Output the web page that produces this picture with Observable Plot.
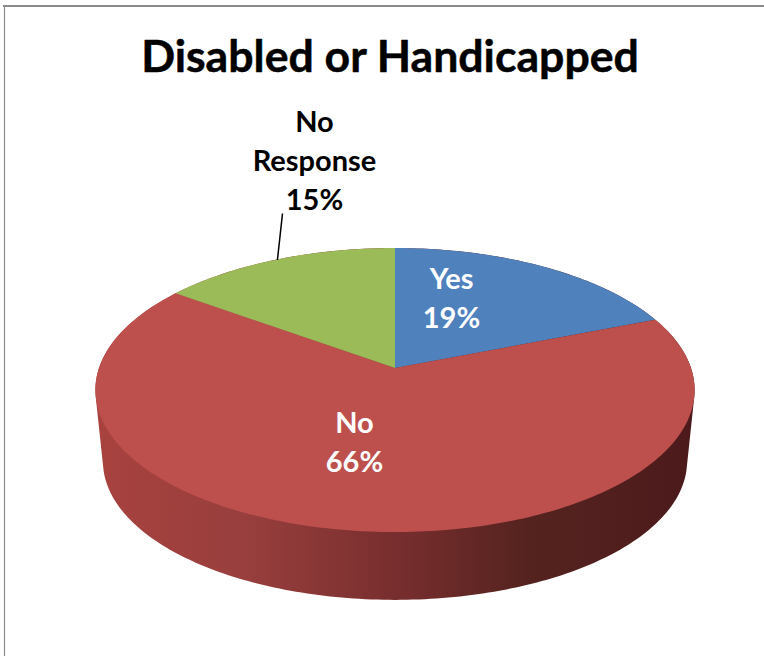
<!DOCTYPE html>
<html>
<head>
<meta charset="utf-8">
<title>Disabled or Handicapped</title>
<script src="https://cdn.jsdelivr.net/npm/d3@7"></script>
<script src="https://cdn.jsdelivr.net/npm/@observablehq/plot@0.6"></script>
<style>
  html, body { margin: 0; padding: 0; background: #fff; }
  svg { display: block; }
</style>
</head>
<body>
<script>
// Survey responses, in clockwise order from twelve o'clock
const categories = ["Yes", "No", "No Response"];
const percents = [19, 66, 15];
const labelNames = ["Yes", "No", "No\nResponse"];
const sliceColors = ["#4f81bd", "#bd504d", "#9bbb59"];
const labelColors = ["white", "white", "black"];

// Perspective disc: apex on screen, half-axes, and foreshortening towards the back
const disc = {cx: 395, cy: 368, a: 296, b: 138.6, k: 0.155};
// Lower rim of the disc, a little narrower and pushed down
const base = {cx: 395, cy: 440, a: 288.5, b: 135.1, k: 0.155};

const labelCenters = [[451, 296], [354, 440], [314, 158]];
const leaderTop = [282, 213];

// Wall shading from the lit left edge to the dark right edge
const wallStops = [
  [0, "#a8423f"], [0.25, "#983f3d"], [0.5, "#782e2e"],
  [0.72, "#55231f"], [1, "#4c1a1b"]
];

// Turn a fraction of the full circle into a screen position on a disc
function project(d, turn, r = 1) {
  const t = turn * 2 * Math.PI;
  const u = r * Math.sin(t), v = r * Math.cos(t);
  const s = 1 / (1 + d.k * v);
  return [d.cx + d.a * u * s, d.cy - d.b * v * s];
}

const total = d3.sum(percents);
const ends = d3.cumsum(percents).map((c) => c / total);
const slices = categories.map((name, i) => ({
  name,
  start: i ? ends[i - 1] : 0,
  end: ends[i]
}));

function arcTurns(start, end) {
  const steps = Math.ceil((end - start) * 360);
  return d3.range(steps + 1).map((j) => start + (end - start) * j / steps);
}

const faceRows = slices.flatMap((s) => arcTurns(s.start, s.end).map((turn) => {
  const [x, y] = project(disc, turn);
  return {name: s.name, x1: disc.cx, y1: disc.cy, x2: x, y2: y};
}));

// Silhouette of the extruded disc: the hull of both rims, swept from its middle
const rimPoints = arcTurns(0, 1).flatMap((turn) => [project(disc, turn), project(base, turn)]);
const hull = d3.polygonHull(rimPoints);
const bodyRows = [...hull, hull[0]].map(([x, y]) => ({
  x1: base.cx, y1: base.cy, x2: x, y2: y
}));

const labels = categories.map((name, i) => ({
  text: `${labelNames[i]}\n${percents[i]}%`,
  x: labelCenters[i][0],
  y: labelCenters[i][1],
  color: labelColors[i]
}));

const third = slices[2];
const leaderEnd = project(disc, (third.start + third.end) / 2);

function wallGradient() {
  const defs = d3.create("svg:defs");
  const g = defs.append("linearGradient")
    .attr("id", "wallShade")
    .attr("gradientUnits", "userSpaceOnUse")
    .attr("x1", 95).attr("x2", 695).attr("y1", 0).attr("y2", 0);
  for (const [offset, color] of wallStops) {
    g.append("stop").attr("offset", offset).attr("stop-color", color);
  }
  return defs.node();
}

const chart = Plot.plot({
  width: 764,
  height: 656,
  margin: 0,
  style: {background: "white"},
  x: {domain: [0, 764], range: [0, 764], axis: null},
  y: {domain: [0, 656], range: [0, 656], axis: null},
  color: {domain: categories, range: sliceColors},
  marks: [
    wallGradient,
    // Chart frame, open on the right and at the bottom
    Plot.ruleY([5.5], {x1: 3, x2: 764, stroke: "#8c8c8c", strokeWidth: 2}),
    Plot.ruleX([4], {y1: 5, y2: 656, stroke: "#8c8c8c", strokeWidth: 1.2}),
    // Shaded body first, then the top face over it
    Plot.area(bodyRows, {x1: "x1", y1: "y1", x2: "x2", y2: "y2", fill: "url(#wallShade)"}),
    Plot.area(faceRows, {x1: "x1", y1: "y1", x2: "x2", y2: "y2", z: "name", fill: "name"}),
    // Leader from the outside label to its slice
    Plot.link([0], {
      x1: () => leaderTop[0], y1: () => leaderTop[1],
      x2: () => leaderEnd[0], y2: () => leaderEnd[1],
      stroke: "black", strokeWidth: 1.5
    }),
    Plot.text(labels, {
      x: "x", y: "y", text: "text", fill: "color",
      fontFamily: "Lato", fontWeight: 700, fontSize: 29, lineHeight: 1.345
    }),
    Plot.text(["Disabled or Handicapped"], {
      x: () => 389.5, y: () => 57, text: (d) => d,
      fill: "black", stroke: "black", strokeWidth: 0.5,
      fontFamily: "Lato", fontWeight: 700, fontSize: 44.6
    })
  ]
});
document.body.append(chart);
</script>
</body>
</html>
